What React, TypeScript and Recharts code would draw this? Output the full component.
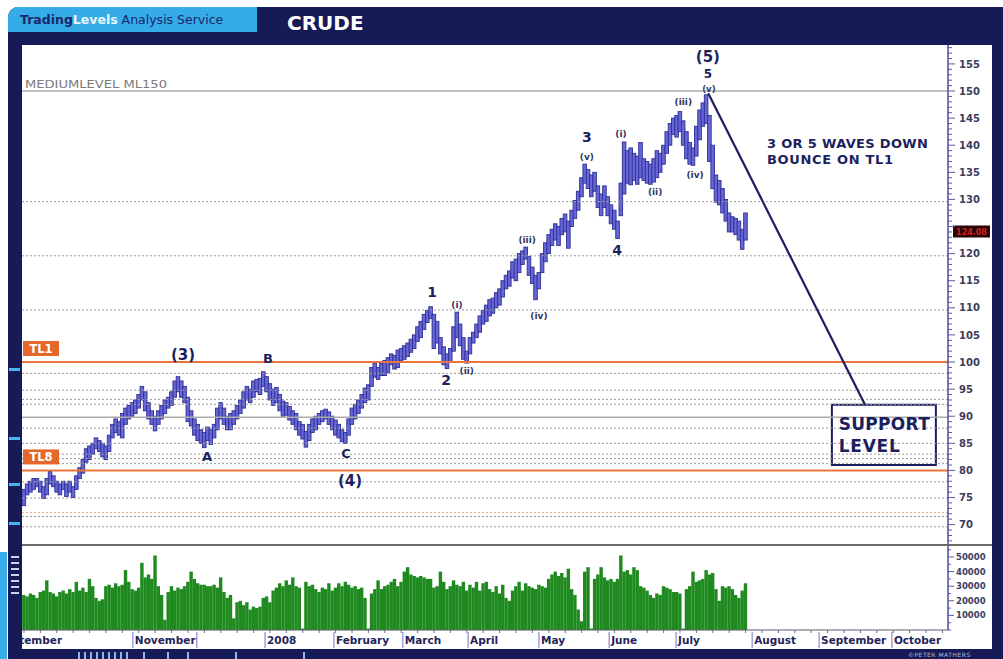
import React from 'react';
import { ComposedChart, BarChart, Bar, XAxis, YAxis, ReferenceLine, ReferenceDot, ReferenceArea } from 'recharts';

const WIDE = '"DejaVu Sans", Verdana, sans-serif';
const NAVY = '#161b57';
const INK = '#1c1f5e';
const ORANGE = '#e8763c';

// Daily bars, mid-September 2007 .. 31 July 2008 (trading-day index)
const lows = [
  73.5, 75.5, 76, 76.5, 77, 76, 74.8, 75.5, 77.5, 77,
  76, 75.5, 76.5, 75.2, 76, 75, 76.5, 78.5, 79.5, 81.5,
  82, 83, 84, 83.5, 82.5, 82, 83.5, 86, 87, 86.5,
  86, 88.5, 89.5, 90, 90.5, 91.5, 93, 91, 89.5, 88.5,
  87.3, 88.5, 89.5, 90.5, 91.5, 92, 93.5, 94.5, 93.5, 92.5,
  89, 88.2, 86.5, 85.5, 85, 84.2, 85.5, 84.8, 86, 87.5,
  89.5, 88.5, 87.5, 87.5, 88.5, 89.5, 90.5, 91.5, 93, 92.5,
  93.5, 94.5, 94, 95.5, 94.5, 93, 92, 92.5, 91, 90,
  90.2, 89.3, 88.5, 87.5, 86.5, 85.8, 84.3, 85.5, 87, 87.5,
  88.5, 89, 89.5, 88.5, 87.5, 86.5, 86, 85.3, 85, 86.5,
  88.5, 89.5, 90.5, 91.5, 92.5, 93, 95.5, 97.2, 96.8, 97.5,
  97.5, 98, 99.5, 98.7, 99, 100.3, 100.5, 101, 101.8, 102.5,
  103.8, 104.5, 106, 107.3, 108, 102.5, 103.5, 101.5, 99.5, 98.8,
  100, 102, 104.5, 103, 100.5, 99.8, 101.5, 103.5, 104.5, 105.5,
  107, 107.5, 108.5, 109, 110, 110.5, 112, 113.5, 114, 115.5,
  115, 116.5, 118, 119, 116, 114.5, 111.5, 113.5, 116.5, 118.5,
  120, 121.5, 122.5, 121.5, 123.5, 124, 121, 125, 126.5, 128,
  130.5, 133, 132, 130.5, 131.5, 128.5, 127, 128.5, 127, 125.5,
  124.5, 122.8, 127, 131, 133, 132.7, 133.5, 132.8, 134, 133.5,
  133, 132.8, 133.2, 134, 135, 136.5, 138.5, 140, 142, 141.5,
  142.5, 140, 137.5, 136.5, 136.3, 138, 141, 143.5, 144, 137,
  132, 129.5, 129, 127.5, 126, 124, 124, 123.5, 122.5, 120.8, 122.5,
];

const highs = [
  76.5, 77.5, 78, 78.5, 78.5, 78, 77, 78.5, 79.8, 79,
  78, 77.5, 78, 77.5, 78, 77, 79, 80.5, 82, 84,
  84.5, 85, 86, 85.5, 85, 84.5, 86.5, 88.5, 89.5, 89,
  90.5, 91.5, 92, 92.5, 93, 94, 95.5, 94.5, 92.5, 91,
  90, 91, 92, 93, 93.5, 94.5, 96.5, 97.3, 96.5, 95.5,
  93.5, 91, 89.5, 88.5, 87.5, 87, 88, 87.5, 88.5, 91.5,
  92.5, 91.5, 90, 90.5, 91, 92, 93, 94.5, 95.5, 95,
  96.5, 96.8, 97, 98.2, 97.3, 96, 95, 95.3, 94, 92.8,
  92.5, 91.8, 91, 90.5, 89, 88.5, 87.2, 88.5, 89.5, 90,
  90.5, 91, 91.3, 90.8, 90, 89.3, 88.5, 87.5, 87, 89.5,
  91.5, 92.2, 93, 94, 95.2, 95.8, 99, 99.8, 99, 99.8,
  100.3, 100.8, 101.5, 101.2, 102.2, 102.5, 103, 103.5, 104.2, 105,
  106.5, 107.5, 108.8, 109.5, 110.2, 108.8, 107.5, 104.5, 102.8, 101.5,
  102.5, 106.5, 109.2, 107, 104.5, 102, 104.5, 105.5, 107, 108.5,
  109.5, 110.5, 111.5, 111.8, 112.8, 113.5, 115, 116, 116.8, 118.5,
  119, 120, 120.5, 121.2, 119.5, 117.5, 116, 116.5, 120, 122,
  123.5, 124.5, 125.5, 125, 126.5, 127.3, 126, 128, 129.8, 131.5,
  134, 136.5, 135.5, 134.5, 135, 132.5, 131, 132.5, 130.5, 129,
  128, 126, 133, 140.6, 139, 139.5, 138.5, 138, 140.5, 137.5,
  137, 136.5, 137.5, 139, 138.5, 140, 142.5, 144, 145, 145.5,
  146.2, 144.5, 142.5, 140.5, 139.5, 143.5, 146.5, 147.8, 149.3, 145.5,
  140, 134.5, 133.5, 132, 130, 127.5, 126.8, 126.5, 126, 124.5, 127.5,
];

// volume in thousands of contracts
const volumesK = [
  24, 23, 25, 24, 22, 26, 27, 34, 26, 25,
  23, 26, 27, 25, 28, 26, 33, 27, 29, 26,
  35, 30, 22, 20, 21, 30, 31, 29, 32, 30,
  31, 41, 33, 28, 27, 29, 46, 36, 38, 35,
  51, 30, 24, 7, 26, 30, 27, 29, 28, 30,
  33, 40, 35, 32, 31, 31, 30, 30, 31, 29,
  36, 26, 22, 24, 8, 19, 20, 17, 19, 14,
  16, 15, 16, 22, 23, 19, 27, 29, 32, 30,
  34, 31, 36, 30, 29, 1, 33, 30, 31, 28,
  26, 29, 28, 32, 27, 29, 32, 30, 33, 31,
  29, 30, 28, 29, 22, 1, 25, 28, 34, 28,
  30, 31, 33, 35, 30, 33, 40, 43, 38, 37,
  36, 37, 36, 35, 35, 29, 30, 40, 33, 28,
  30, 34, 31, 30, 33, 27, 31, 29, 33, 27,
  32, 33, 28, 26, 30, 25, 31, 22, 20, 27,
  30, 33, 27, 32, 30, 29, 28, 31, 30, 29,
  35, 38, 40, 37, 39, 36, 42, 28, 24, 14,
  6, 40, 43, 1, 35, 38, 43, 36, 34, 35,
  33, 35, 51, 40, 41, 38, 43, 41, 30, 29,
  27, 24, 22, 25, 24, 30, 29, 28, 26, 26,
  25, 1, 28, 30, 40, 33, 34, 35, 41, 38,
  39, 28, 20, 30, 29, 30, 28, 24, 22, 27, 32,
];

const lastClose = 124.08;

const monthTicks = [-0.6, 33.2, 52.7, 73.5, 94.5, 115.5, 135.4, 157, 178.4, 198.8, 222, 242.4, 264.6];
const monthLabels = ['September', 'November', '', '2008', 'February', 'March', 'April', 'May', 'June', 'July', 'August', 'September', 'October'];

// 125 sits under the last-price tag in the original, so it is not printed
const priceLabels = [70, 75, 80, 85, 90, 95, 100, 105, 110, 115, 120, 130, 135, 140, 145, 150, 155];
const volumeLabels = [10, 20, 30, 40, 50];

const dottedLevels = [129.6, 119.6, 109.6, 97.9, 94.8, 93.1, 92.2, 87.8, 85.0, 83.0, 82.2, 81.3, 77.9, 74.9, 71.5, 69.6];
const solidLevels = [150, 89.8];
const tlLines = [{ name: 'TL1', value: 100 }, { name: 'TL8', value: 80 }];
const mediumLevel = { name: 'MEDIUMLEVEL ML150', value: 150 };

const waveLabels = [
  { i: 48.5, p: 101.3, text: '(3)', size: 15 },
  { i: 74.4, p: 100.7, text: 'B', size: 13 },
  { i: 55.8, p: 82.5, text: 'A', size: 13 },
  { i: 98.2, p: 83.2, text: 'C', size: 13 },
  { i: 99.4, p: 78.0, text: '(4)', size: 15 },
  { i: 124.4, p: 112.9, text: '1', size: 14 },
  { i: 132.0, p: 110.5, text: '(i)', size: 9 },
  { i: 128.7, p: 96.7, text: '2', size: 14 },
  { i: 135.0, p: 98.3, text: '(ii)', size: 9 },
  { i: 153.4, p: 122.5, text: '(iii)', size: 9 },
  { i: 157.0, p: 108.5, text: '(iv)', size: 9 },
  { i: 171.6, p: 141.5, text: '3', size: 14 },
  { i: 171.6, p: 137.8, text: '(v)', size: 9 },
  { i: 180.8, p: 120.7, text: '4', size: 14 },
  { i: 182.0, p: 142.1, text: '(i)', size: 9 },
  { i: 192.4, p: 131.4, text: '(ii)', size: 9 },
  { i: 201.0, p: 148.0, text: '(iii)', size: 9 },
  { i: 204.6, p: 134.5, text: '(iv)', size: 9 },
  { i: 208.5, p: 156.2, text: '(5)', size: 15 },
  { i: 208.5, p: 153.1, text: '5', size: 12 },
  { i: 208.8, p: 150.3, text: '(v)', size: 8.5 },
];

const notes = [
  { i: 226.5, p: 140.4, text: '3 OR 5 WAVES DOWN', size: 13, len: 161 },
  { i: 226.5, p: 137.3, text: 'BOUNCE ON TL1', size: 13, len: 126 },
  { i: 248.4, p: 88.6, text: 'SUPPORT', size: 17, len: 91 },
  { i: 248.4, p: 84.5, text: 'LEVEL', size: 17, len: 61 },
];

const projection = { from: { i: 208.6, p: 149.6 }, to: { i: 256.4, p: 92.1 } };
const supportBox = { i1: 246.3, i2: 278, p1: 81, p2: 92.1 };

const X_DOMAIN: [number, number] = [-0.6, 281.7];
const P_DOMAIN: [number, number] = [66.24, 158.49];
const V_DOMAIN: [number, number] = [0, 58.2];

const bars = lows.map((lo, k) => ({ i: k, range: [lo, highs[k]], vol: volumesK[k] }));

const priceTickValues: number[] = [];
for (let v = 67; v <= 158; v++) priceTickValues.push(v);
const volumeTickValues: number[] = [];
for (let v = 0; v <= 55; v += 5) volumeTickValues.push(v);
const weekTicks: number[] = [];
for (let v = 0; v <= 280; v += 5) weekTicks.push(v);
const xTicks = [...monthTicks, ...weekTicks].sort((a, b) => a - b);

function PriceTick(props: any) {
  const { x, y, payload } = props;
  const v = payload.value;
  const major = v % 5 === 0;
  const labelled = priceLabels.indexOf(v) >= 0;
  return (
    <g>
      <line x1={x} x2={x + (major ? 7 : 4)} y1={y} y2={y} stroke="#5a5aa8" strokeWidth={1} />
      {labelled && (
        <text x={x + 11} y={y + 3.6} fill="#3c3c5e" fontFamily={WIDE} fontWeight="bold" fontSize={10}>
          {v}
        </text>
      )}
    </g>
  );
}

function VolumeTick(props: any) {
  const { x, y, payload } = props;
  const v = payload.value;
  const major = volumeLabels.indexOf(v) >= 0;
  return (
    <g>
      <line x1={x} x2={x + (major ? 6 : 3)} y1={y} y2={y} stroke="#5a5aa8" strokeWidth={1} />
      {major && (
        <text x={x + 8} y={y + 3} fill="#3c3c5e" fontFamily={WIDE} fontWeight="bold" fontSize={8.5}>
          {v * 1000}
        </text>
      )}
    </g>
  );
}

function MonthTick(props: any) {
  const { x, y, payload } = props;
  const idx = monthTicks.indexOf(payload.value);
  if (idx < 0) {
    return <line x1={x} x2={x} y1={y} y2={y + 3} stroke="#6a6a9a" strokeWidth={1} />;
  }
  const first = idx === 0;
  return (
    <g>
      {!first && <line x1={x} x2={x} y1={y + 2} y2={y + 18} stroke="#8a8ad0" strokeWidth={1.2} />}
      <text x={first ? x - 25 : x + 2} y={y + 13.5} fill="#24245a" fontFamily={WIDE} fontWeight="bold" fontSize={10.5}>
        {monthLabels[idx]}
      </text>
    </g>
  );
}

function PriceBarShape(props: any) {
  const { x, y, width, height } = props;
  if (x == null || y == null || height == null) return null;
  const top = Math.min(y, y + height);
  const h = Math.max(Math.abs(height), 1.5);
  const cx = x + width / 2;
  return <rect x={cx - 1.8} y={top} width={3.6} height={h} fill="#6666d4" stroke="#2e2e96" strokeWidth={0.9} />;
}

function VolumeBarShape(props: any) {
  const { x, y, width, height } = props;
  if (x == null || y == null || height == null) return null;
  const cx = x + width / 2;
  return <rect x={cx - 1.7} y={y} width={3.4} height={Math.max(height, 0)} fill="#1f8a1f" />;
}

function PriceChart() {
  return (
    <ComposedChart width={970} height={500} data={bars} margin={{ top: 0, right: 0, bottom: 0, left: 0 }}>
      <XAxis type="number" dataKey="i" domain={X_DOMAIN} hide allowDataOverflow />
      <YAxis
        type="number"
        orientation="right"
        width={44}
        domain={P_DOMAIN}
        allowDataOverflow
        ticks={priceTickValues}
        interval={0}
        tick={PriceTick}
        tickLine={false}
        tickSize={0}
        tickMargin={0}
        axisLine={{ stroke: '#4a4a9e', strokeWidth: 1.5 }}
      />
      {dottedLevels.map((v) => (
        <ReferenceLine key={'d' + v} y={v} stroke="#9a9a9a" strokeDasharray="2 2" strokeWidth={1} />
      ))}
      <ReferenceLine y={72.2} stroke="#e2a585" strokeDasharray="2 2" strokeWidth={1} />
      {solidLevels.map((v) => (
        <ReferenceLine key={'s' + v} y={v} stroke="#ababab" strokeWidth={1.5} />
      ))}
      {tlLines.map((t) => (
        <ReferenceLine key={t.name} y={t.value} stroke={ORANGE} strokeWidth={2} />
      ))}
      <ReferenceArea
        x1={supportBox.i1}
        x2={supportBox.i2}
        y1={supportBox.p1}
        y2={supportBox.p2}
        fill="none"
        fillOpacity={0}
        stroke={INK}
        strokeWidth={2}
        strokeOpacity={1}
        ifOverflow="visible"
      />
      <Bar dataKey="range" barSize={3} isAnimationActive={false} shape={PriceBarShape} />
      <ReferenceLine
        segment={[{ x: projection.from.i, y: projection.from.p }, { x: projection.to.i, y: projection.to.p }]}
        stroke={INK}
        strokeWidth={2.2}
        ifOverflow="visible"
      />
      {tlLines.map((t) => (
        <ReferenceDot
          key={'lbl' + t.name}
          x={X_DOMAIN[0]}
          y={t.value}
          r={0}
          ifOverflow="visible"
          shape={(s: any) => (
            <g>
              <rect x={s.cx + 1} y={s.cy - 21} width={36} height={15} fill="#e4682c" />
              <text x={s.cx + 19} y={s.cy - 9.5} textAnchor="middle" fill="#ffffff" fontFamily={WIDE} fontWeight="bold" fontSize={11.5}>
                {t.name}
              </text>
            </g>
          )}
        />
      ))}
      <ReferenceDot
        x={X_DOMAIN[0]}
        y={mediumLevel.value}
        r={0}
        ifOverflow="visible"
        shape={(s: any) => (
          <text x={s.cx + 3} y={s.cy - 3} fill="#7a7a7a" fontFamily={WIDE} fontSize={10.5} textLength={142} lengthAdjust="spacingAndGlyphs">
            {mediumLevel.name}
          </text>
        )}
      />
      <ReferenceDot
        x={X_DOMAIN[1]}
        y={lastClose}
        r={0}
        ifOverflow="visible"
        shape={(s: any) => (
          <g>
            <rect x={s.cx + 5} y={s.cy - 6} width={37} height={12} fill="#2a0606" />
            <text x={s.cx + 23.5} y={s.cy + 3} textAnchor="middle" fill="#d42020" fontFamily={WIDE} fontWeight="bold" fontSize={8}>
              {lastClose.toFixed(2)}
            </text>
          </g>
        )}
      />
      {waveLabels.map((w, k) => (
        <ReferenceDot
          key={'w' + k}
          x={w.i}
          y={w.p}
          r={0}
          ifOverflow="visible"
          shape={(s: any) => (
            <text
              x={s.cx}
              y={s.cy}
              textAnchor="middle"
              dominantBaseline="central"
              fill={w.size < 10 ? '#34345a' : INK}
              fontFamily={WIDE}
              fontWeight="bold"
              fontSize={w.size}
            >
              {w.text}
            </text>
          )}
        />
      ))}
      {notes.map((n, k) => (
        <ReferenceDot
          key={'n' + k}
          x={n.i}
          y={n.p}
          r={0}
          ifOverflow="visible"
          shape={(s: any) => (
            <text
              x={s.cx}
              y={s.cy}
              dominantBaseline="central"
              fill={INK}
              fontFamily={WIDE}
              fontWeight="bold"
              fontSize={n.size}
              textLength={n.len}
              lengthAdjust="spacing"
            >
              {n.text}
            </text>
          )}
        />
      ))}
    </ComposedChart>
  );
}

function VolumeChart() {
  return (
    <BarChart width={970} height={103} data={bars} margin={{ top: 0, right: 0, bottom: 0, left: 0 }}>
      <XAxis
        type="number"
        dataKey="i"
        domain={X_DOMAIN}
        allowDataOverflow
        ticks={xTicks}
        interval={0}
        tick={MonthTick}
        tickLine={false}
        tickSize={0}
        tickMargin={0}
        height={18}
        axisLine={{ stroke: '#5a5a6a', strokeWidth: 1.2 }}
      />
      <YAxis
        type="number"
        orientation="right"
        width={44}
        domain={V_DOMAIN}
        allowDataOverflow
        ticks={volumeTickValues}
        interval={0}
        tick={VolumeTick}
        tickLine={false}
        tickSize={0}
        tickMargin={0}
        axisLine={{ stroke: '#4a4a9e', strokeWidth: 1.5 }}
      />
      <Bar dataKey="vol" barSize={3} isAnimationActive={false} shape={VolumeBarShape} />
    </BarChart>
  );
}

const abs = (l: number, t: number, w: number, h: number, extra: React.CSSProperties = {}): React.CSSProperties => ({
  position: 'absolute',
  left: l,
  top: t,
  width: w,
  height: h,
  ...extra,
});

export default function App() {
  const leftMarks = [368, 437, 483, 522];
  const bottomMarks = [78, 84, 90, 96, 102, 108, 114, 120, 126, 143, 167, 187, 235, 303];
  return (
    <div style={abs(0, 0, 1003, 659, { background: '#ffffff', overflow: 'hidden' })}>
      <div style={abs(8, 7, 995, 652, { background: NAVY, borderTopLeftRadius: 10 })} />
      <div style={abs(0, 552, 7, 107, { background: '#39aee8' })} />
      <div style={abs(8, 7, 249, 25, { background: '#35ace8', borderTopLeftRadius: 10 })} />
      <div
        style={{
          position: 'absolute',
          left: 20,
          top: 12,
          fontFamily: WIDE,
          fontSize: 12.5,
          lineHeight: '15px',
          whiteSpace: 'nowrap',
          color: '#1a2768',
        }}
      >
        <b>Trading</b>
        <b style={{ color: '#e6f6ff' }}>Levels</b> Analysis Service
      </div>
      <div
        style={{
          position: 'absolute',
          left: 287,
          top: 11,
          fontFamily: WIDE,
          fontWeight: 'bold',
          fontSize: 20,
          lineHeight: '24px',
          color: '#ffffff',
        }}
      >
        CRUDE
      </div>
      <div style={abs(22, 45, 970, 604, { background: '#ffffff' })} />
      <div style={abs(22, 45, 970, 500)}>
        <PriceChart />
      </div>
      <div style={abs(22, 545, 970, 103)}>
        <VolumeChart />
      </div>
      <div style={abs(22, 544, 970, 1.5, { background: '#6a6a6a' })} />
      <div style={abs(8, 32, 14, 627, { background: NAVY })} />
      {leftMarks.map((y) => (
        <div key={'lm' + y} style={abs(9, y, 11, 3, { background: '#46b6ee' })} />
      ))}
      {[556, 562, 568, 574, 580, 586, 592].map((y) => (
        <div key={'lw' + y} style={abs(11, y, 8, 2, { background: '#c8d8f0' })} />
      ))}
      {bottomMarks.map((x) => (
        <div key={'bm' + x} style={abs(x, 652, 2, 7, { background: '#8fb8e8' })} />
      ))}
      <div
        style={{
          position: 'absolute',
          left: 908,
          top: 651,
          fontFamily: WIDE,
          fontSize: 6,
          lineHeight: '7px',
          color: '#b8bcd8',
          letterSpacing: 0.5,
        }}
      >
        ©PETER MATHERS
      </div>
    </div>
  );
}
